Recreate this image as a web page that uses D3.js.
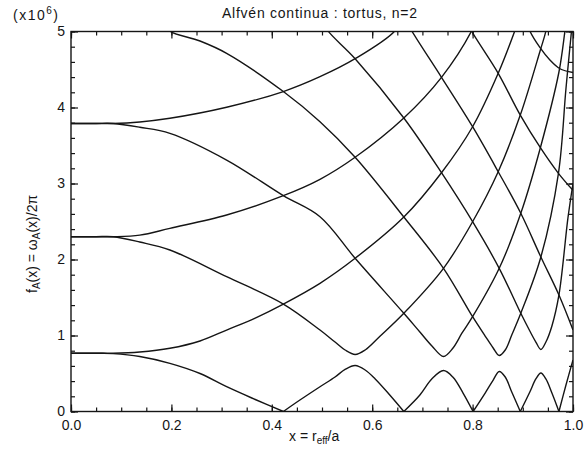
<!DOCTYPE html>
<html>
<head>
<meta charset="utf-8">
<script src="https://cdn.jsdelivr.net/npm/d3@7"></script>
<style>
  html, body { margin: 0; padding: 0; background: #fff; }
  svg { display: block; }
</style>
</head>
<body>
<svg id="chart" width="588" height="451"></svg>
<script>
// ---- axis ticks ----
const xMajorTicks = [0.0, 0.2, 0.4, 0.6, 0.8, 1.0];
const xMinorTicks = d3.range(0, 1.0001, 0.05);
const yMajorTicks = [0, 1, 2, 3, 4, 5];
const yMinorTicks = d3.range(0, 5.0001, 0.2);

// ---- Alfvén continuum branches, f in units of 10^6 ----
// lowest branch: touches zero at the rational surfaces, rounded tops at the TAE gaps
const branchLowest = [
  [0, 0.766], [0.058, 0.766], [0.084, 0.762], [0.137, 0.724], [0.197, 0.634], [0.257, 0.50],
  [0.310, 0.326], [0.367, 0.158], [0.423, 0],
  [0.456, 0.151], [0.496, 0.326], [0.526, 0.454], [0.546, 0.553], [0.566, 0.605],
  [0.586, 0.546], [0.606, 0.428], [0.635, 0.217], [0.663, 0],
  [0.695, 0.217], [0.719, 0.43], [0.742, 0.539], [0.761, 0.45], [0.781, 0.243], [0.801, 0],
  [0.825, 0.243], [0.841, 0.414], [0.853, 0.526], [0.865, 0.454], [0.878, 0.257], [0.895, 0],
  [0.914, 0.257], [0.926, 0.428], [0.936, 0.507], [0.946, 0.428], [0.958, 0.243], [0.972, 0],
  [0.986, 0.349], [1.0, 0.678]
];
// m = 2, rising from the lowest core pair
const branchM2 = [
  [0, 0.766], [0.05, 0.766], [0.084, 0.766], [0.137, 0.783], [0.197, 0.832], [0.257, 0.928],
  [0.310, 1.072], [0.367, 1.23], [0.423, 1.414], [0.496, 1.687], [0.566, 2.016], [0.663, 2.559],
  [0.738, 3.142], [0.800, 3.747], [0.851, 4.45], [0.884, 5.007], [0.894, 5.2]
];
// m = 1, rising from the middle core pair
const branchM1 = [
  [0, 2.30], [0.05, 2.30], [0.084, 2.30], [0.137, 2.32], [0.197, 2.41], [0.310, 2.586],
  [0.423, 2.84], [0.496, 3.055], [0.566, 3.345], [0.663, 3.862], [0.738, 4.397],
  [0.798, 5.007], [0.81, 5.2]
];
// m = 0, rising from the upper core pair
const branchM0 = [
  [0, 3.79], [0.05, 3.79], [0.084, 3.79], [0.137, 3.81], [0.197, 3.858], [0.310, 4.003],
  [0.423, 4.21], [0.496, 4.405], [0.566, 4.642], [0.645, 5.007], [0.66, 5.2]
];
// m = 4 falling into the first TAE gap, leaving it as m = 3
const branchM4M3 = [
  [0, 2.30], [0.05, 2.30], [0.084, 2.30], [0.137, 2.23], [0.197, 2.125], [0.310, 1.774],
  [0.423, 1.414], [0.496, 1.072], [0.526, 0.914], [0.546, 0.809], [0.566, 0.75],
  [0.586, 0.809], [0.616, 0.993], [0.663, 1.292], [0.742, 1.884], [0.800, 2.497],
  [0.851, 3.155], [0.895, 3.90], [0.935, 4.757], [0.946, 5.007], [0.95, 5.2]
];
// m = 5 falling into the second TAE gap, leaving it as m = 4
const branchM5M4 = [
  [0, 3.79], [0.05, 3.79], [0.084, 3.79], [0.137, 3.74], [0.197, 3.66], [0.310, 3.309],
  [0.423, 2.84], [0.496, 2.563], [0.566, 2.016], [0.663, 1.292], [0.695, 1.046],
  [0.719, 0.862], [0.742, 0.724], [0.761, 0.836], [0.779, 1.033], [0.800, 1.247],
  [0.853, 1.884], [0.896, 2.608], [0.935, 3.471], [0.972, 4.467], [0.984, 5.007], [0.988, 5.2]
];
// m = 6 entering from above, through the third gap, leaving as m = 5
const branchM6M5 = [
  [0.19, 5.1], [0.197, 5.007], [0.257, 4.875], [0.310, 4.713], [0.423, 4.21], [0.496, 3.813],
  [0.566, 3.345], [0.663, 2.559], [0.742, 1.884], [0.800, 1.247], [0.825, 0.993],
  [0.841, 0.836], [0.853, 0.737], [0.865, 0.809], [0.878, 1.007], [0.896, 1.292],
  [0.936, 2.033], [0.971, 3.134], [0.986, 4.25], [0.997, 5.007], [1.0, 5.2]
];
// m = 7 entering from above, through the fourth gap, leaving as m = 6
const branchM7M6 = [
  [0.505, 5.1], [0.512, 5.007], [0.566, 4.642], [0.663, 3.862], [0.738, 3.142], [0.800, 2.497],
  [0.853, 1.884], [0.896, 1.292], [0.914, 1.059], [0.926, 0.914], [0.936, 0.816],
  [0.946, 0.914], [0.958, 1.125], [0.972, 1.533], [0.990, 2.55], [1.0, 3.0]
];
// m = 8 falling
const branchM8 = [
  [0.672, 5.1], [0.679, 5.007], [0.738, 4.397], [0.800, 3.747], [0.851, 3.155], [0.896, 2.608],
  [0.936, 2.033], [0.972, 1.533], [1.0, 1.072]
];
// m = 9 falling
const branchM9 = [
  [0.792, 5.1], [0.798, 5.007], [0.851, 4.45], [0.895, 3.90], [0.935, 3.471], [0.971, 3.134],
  [1.0, 2.91]
];
// m = 10 falling, flattening at the edge
const branchM10 = [
  [0.909, 5.1], [0.914, 5.007], [0.934, 4.79], [0.954, 4.625], [0.974, 4.51], [1.0, 4.46]
];

const branches = [branchLowest, branchM2, branchM1, branchM0, branchM4M3, branchM5M4,
                  branchM6M5, branchM7M6, branchM8, branchM9, branchM10];

// ---- layout ----
const svg = d3.select("#chart");
const x = d3.scaleLinear().domain([0, 1]).range([71, 573]);
const y = d3.scaleLinear().domain([0, 5]).range([411.5, 31.5]);
const ink = "#151515";
const font = "'Liberation Sans', Arial, Helvetica, sans-serif";

svg.append("defs").append("clipPath").attr("id", "plot-clip")
  .append("rect")
  .attr("x", x(0)).attr("y", y(5))
  .attr("width", x(1) - x(0)).attr("height", y(0) - y(5));

// ---- continuum curves ----
// each branch is broken at its zero crossings so the V tips stay sharp
function pieces(pts) {
  const out = [];
  let cur = [];
  pts.forEach((p, i) => {
    cur.push(p);
    if (p[1] === 0 && i > 0 && i < pts.length - 1) {
      out.push(cur);
      cur = [p];
    }
  });
  out.push(cur);
  return out;
}
const line = d3.line()
  .x(d => x(d[0]))
  .y(d => y(d[1]))
  .curve(d3.curveCatmullRom.alpha(0.5));

const gCurves = svg.append("g").attr("clip-path", "url(#plot-clip)");
branches.forEach(b => {
  pieces(b).forEach(seg => {
    gCurves.append("path")
      .attr("d", line(seg))
      .attr("fill", "none")
      .attr("stroke", ink)
      .attr("stroke-width", 1.4)
      .attr("stroke-linejoin", "round");
  });
});

// ---- axes: ticks point inward on all four sides ----
function styleAxis(g, labels) {
  g.select(".domain").remove();
  g.selectAll(".tick line").attr("stroke", ink).attr("stroke-width", 1.2);
  g.selectAll(".tick text")
    .attr("fill", ink)
    .attr("font-family", font)
    .attr("font-size", 14)
    .style("display", labels ? null : "none");
}
const bottomMinor = svg.append("g").attr("transform", `translate(0,${y(0)})`)
  .call(d3.axisBottom(x).tickValues(xMinorTicks).tickSize(-4).tickSizeOuter(0).tickFormat(""));
styleAxis(bottomMinor, false);
const bottomMajor = svg.append("g").attr("transform", `translate(0,${y(0)})`)
  .call(d3.axisBottom(x).tickValues(xMajorTicks).tickSize(-7).tickSizeOuter(0)
    .tickPadding(9).tickFormat(d3.format(".1f")));
styleAxis(bottomMajor, true);

const topMinor = svg.append("g").attr("transform", `translate(0,${y(5)})`)
  .call(d3.axisTop(x).tickValues(xMinorTicks).tickSize(-4).tickSizeOuter(0).tickFormat(""));
styleAxis(topMinor, false);
const topMajor = svg.append("g").attr("transform", `translate(0,${y(5)})`)
  .call(d3.axisTop(x).tickValues(xMajorTicks).tickSize(-7).tickSizeOuter(0).tickFormat(""));
styleAxis(topMajor, false);

const leftMinor = svg.append("g").attr("transform", `translate(${x(0)},0)`)
  .call(d3.axisLeft(y).tickValues(yMinorTicks).tickSize(-4).tickSizeOuter(0).tickFormat(""));
styleAxis(leftMinor, false);
const leftMajor = svg.append("g").attr("transform", `translate(${x(0)},0)`)
  .call(d3.axisLeft(y).tickValues(yMajorTicks).tickSize(-7).tickSizeOuter(0)
    .tickPadding(6).tickFormat(d3.format("d")));
styleAxis(leftMajor, true);
leftMajor.selectAll(".tick text").attr("dy", "0.26em");

const rightMinor = svg.append("g").attr("transform", `translate(${x(1)},0)`)
  .call(d3.axisRight(y).tickValues(yMinorTicks).tickSize(-4).tickSizeOuter(0).tickFormat(""));
styleAxis(rightMinor, false);
const rightMajor = svg.append("g").attr("transform", `translate(${x(1)},0)`)
  .call(d3.axisRight(y).tickValues(yMajorTicks).tickSize(-7).tickSizeOuter(0).tickFormat(""));
styleAxis(rightMajor, false);

// frame
svg.append("rect")
  .attr("x", x(0)).attr("y", y(5))
  .attr("width", x(1) - x(0)).attr("height", y(0) - y(5))
  .attr("fill", "none").attr("stroke", ink).attr("stroke-width", 1.4);

// ---- text ----
svg.append("text")
  .attr("x", 222).attr("y", 18)
  .attr("font-family", font).attr("font-size", 14).attr("fill", ink)
  .attr("textLength", 195).attr("lengthAdjust", "spacing")
  .text("Alfvén continua : tortus, n=2");

const mult = svg.append("text")
  .attr("x", 13).attr("y", 20)
  .attr("font-family", font).attr("font-size", 14).attr("fill", ink)
  .attr("letter-spacing", 1.5);
mult.append("tspan").text("(x10");
mult.append("tspan").attr("dy", -6).attr("font-size", 10).text("6");
mult.append("tspan").attr("dy", 6).text(")");

const xl = svg.append("text")
  .attr("x", 289).attr("y", 441)
  .attr("font-family", font).attr("font-size", 14).attr("fill", ink);
xl.append("tspan").text("x = r");
xl.append("tspan").attr("dy", 3).attr("font-size", 10).text("eff");
xl.append("tspan").attr("dy", -3).text("/a");

const yl = svg.append("text")
  .attr("transform", "translate(37,293) rotate(-90)")
  .attr("font-family", font).attr("font-size", 14).attr("fill", ink);
yl.append("tspan").text("f");
yl.append("tspan").attr("dy", 3).attr("font-size", 10).text("A");
yl.append("tspan").attr("dy", -3).text("(x) = ω");
yl.append("tspan").attr("dy", 3).attr("font-size", 10).text("A");
yl.append("tspan").attr("dy", -3).text("(x)/2π");
</script>
</body>
</html>
